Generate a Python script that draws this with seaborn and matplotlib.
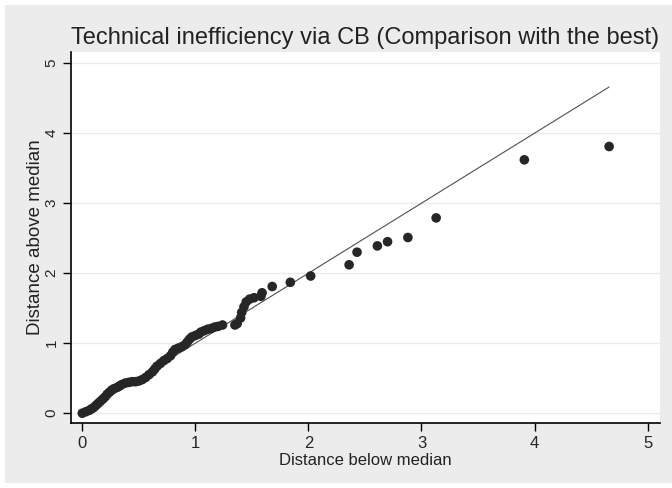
import matplotlib
matplotlib.use("Agg")
import matplotlib.pyplot as plt
from matplotlib.patches import Rectangle
import seaborn as sns
import pandas as pd

# Data (symmetry plot)
below = [0.00, 0.03, 0.06, 0.08, 0.10, 0.12, 0.14, 0.16, 0.18, 0.20,
         0.22, 0.24, 0.26, 0.28, 0.31, 0.33, 0.35, 0.38, 0.41, 0.44,
         0.47, 0.50, 0.53, 0.56, 0.59, 0.62, 0.64, 0.66, 0.69, 0.72,
         0.75, 0.78, 0.80, 0.82, 0.85, 0.88, 0.91, 0.93, 0.95, 0.97,
         1.00, 1.03, 1.05, 1.08, 1.11, 1.14, 1.17, 1.20, 1.24, 1.35,
         1.37, 1.40, 1.41, 1.43, 1.45, 1.48, 1.52, 1.58, 1.59, 1.68,
         1.84, 2.02, 2.36, 2.43, 2.61, 2.70, 2.88, 3.13, 3.91, 4.66]
above = [0.00, 0.02, 0.04, 0.06, 0.08, 0.11, 0.14, 0.17, 0.20, 0.23,
         0.27, 0.30, 0.33, 0.35, 0.37, 0.39, 0.41, 0.43, 0.44, 0.45,
         0.45, 0.46, 0.48, 0.51, 0.55, 0.59, 0.63, 0.67, 0.71, 0.75,
         0.78, 0.82, 0.87, 0.91, 0.93, 0.95, 0.98, 1.02, 1.06, 1.09,
         1.11, 1.13, 1.16, 1.18, 1.20, 1.21, 1.23, 1.24, 1.26, 1.26,
         1.28, 1.36, 1.44, 1.52, 1.59, 1.63, 1.65, 1.67, 1.72, 1.81,
         1.87, 1.96, 2.12, 2.30, 2.39, 2.45, 2.51, 2.79, 3.62, 3.81]

title = "Technical inefficiency via CB (Comparison with the best)"
xlabel = "Distance below median"
ylabel = "Distance above median"
ticks = [0, 1, 2, 3, 4, 5]

df = pd.DataFrame({"below": below, "above": above})
ref = pd.DataFrame({"x": [min(below), max(below)], "y": [min(below), max(below)]})

sns.set_theme(style="white")
plt.rcParams['font.family'] = ['Liberation Sans', 'DejaVu Sans']

fig = plt.figure(figsize=(6.72, 4.88), dpi=100, facecolor="white")
fig.patches.append(Rectangle((5 / 672, 5 / 488), 667 / 672, 478 / 488,
                             transform=fig.transFigure, facecolor="#ececec",
                             edgecolor="none", zorder=-10))
ax = fig.add_axes([71 / 672, 1 - 423 / 488, 589 / 672, 371 / 488])
ax.set_facecolor("white")

for t in ticks:
    ax.axhline(t, color="#ebebeb", lw=1.0, zorder=0)

sns.lineplot(data=ref, x="x", y="y", ax=ax, color="#505050", lw=0.8, zorder=2)
sns.scatterplot(data=df, x="below", y="above", ax=ax, color="#262626",
                s=48, edgecolor="none", zorder=3)

ax.set_xlim(-0.1, 5.11)
ax.set_ylim(-0.14, 5.16)
ax.set_xticks(ticks)
ax.set_yticks(ticks)
ax.set_xticklabels([str(t) for t in ticks], fontsize=12)
ax.set_yticklabels([str(t) for t in ticks], fontsize=11, rotation=90, va="center")
ax.tick_params(axis="both", which="major", direction="out", length=6, width=1,
               color="black", bottom=True, left=True, pad=3)

for side in ["top", "right"]:
    ax.spines[side].set_visible(False)
for side in ["left", "bottom"]:
    ax.spines[side].set_color("black")
    ax.spines[side].set_linewidth(1.2)

ax.set_xlabel(xlabel, fontsize=12, labelpad=2, color="#222222")
ax.set_ylabel(ylabel, fontsize=13.5, labelpad=0, color="#222222")
ax.set_title(title, fontsize=17, color="#222222", pad=6)

fig.savefig("out.png", dpi=100, facecolor=fig.get_facecolor())
